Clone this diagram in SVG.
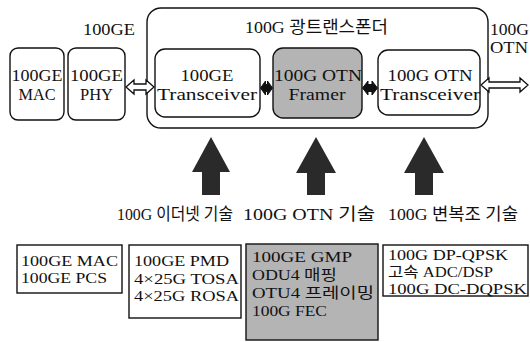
<svg xmlns="http://www.w3.org/2000/svg" width="530" height="342" viewBox="0 0 530 342">
<style>
text{font-family:"Liberation Serif","Noto Sans CJK KR",serif;fill:#111}
.n{font-size:16px;text-anchor:middle}
.b{font-size:14.5px}
.l{font-size:17px}
.box{fill:#fff;stroke:#111;stroke-width:1.4}
.gray{fill:#b4b4b4;stroke:#111;stroke-width:1.4}
.hol{fill:#fff;stroke:#111;stroke-width:1.3;stroke-linejoin:miter}
.blk{fill:#111;stroke:#111;stroke-width:1}
.up{fill:#2a2a2a}
</style>
<rect width="530" height="342" fill="#fff"/>
<g id="transponder">
<rect class="box" x="147" y="8" width="341" height="120" rx="14" stroke-width="1.6"/>
<text class="l" x="245" y="33" textLength="143" lengthAdjust="spacingAndGlyphs">100G 광트랜스폰더</text>
</g>
<text class="l" x="83" y="35" textLength="52" lengthAdjust="spacingAndGlyphs">100GE</text>
<text class="l" x="490" y="35" textLength="39" lengthAdjust="spacingAndGlyphs">100G</text>
<text class="l" x="490" y="53" textLength="38" lengthAdjust="spacingAndGlyphs">OTN</text>
<g id="mac">
<rect class="box" x="10" y="48" width="54" height="72" rx="8"/>
<text class="n" x="37" y="81" textLength="51" lengthAdjust="spacingAndGlyphs">100GE</text>
<text class="n" x="37" y="100" textLength="37" lengthAdjust="spacingAndGlyphs">MAC</text>
</g>
<g id="phy">
<rect class="box" x="68" y="48" width="57" height="72" rx="8"/>
<text class="n" x="96.5" y="81" textLength="53" lengthAdjust="spacingAndGlyphs">100GE</text>
<text class="n" x="96.5" y="100" textLength="33" lengthAdjust="spacingAndGlyphs">PHY</text>
</g>
<g id="ge-transceiver">
<rect class="box" x="155" y="49" width="105" height="68" rx="10"/>
<text class="n" x="207" y="81" textLength="53" lengthAdjust="spacingAndGlyphs">100GE</text>
<text class="n" x="207" y="100" textLength="100" lengthAdjust="spacingAndGlyphs">Transceiver</text>
</g>
<g id="framer">
<rect class="gray" x="273" y="48" width="89" height="70" rx="10"/>
<text class="n" x="318" y="81" textLength="88" lengthAdjust="spacingAndGlyphs">100G OTN</text>
<text class="n" x="317" y="100" textLength="57" lengthAdjust="spacingAndGlyphs">Framer</text>
</g>
<g id="otn-transceiver">
<rect class="box" x="378" y="50" width="102" height="65" rx="10"/>
<text class="n" x="430" y="81" textLength="85" lengthAdjust="spacingAndGlyphs">100G OTN</text>
<text class="n" x="430" y="100" textLength="100" lengthAdjust="spacingAndGlyphs">Transceiver</text>
</g>
<g id="connectors">
<polygon class="hol" points="126,87 134,80 134,84 146,84 146,80 154,87 146,94 146,90 134,90 134,94"/>
<polygon class="blk" points="260.5,88 265.5,81 265.5,84.5 267.5,84.5 267.5,81 272.5,88 267.5,95 267.5,91.5 265.5,91.5 265.5,95"/>
<polygon class="blk" points="362.5,88 368,81 368,84.5 372,84.5 372,81 377.5,88 372,95 372,91.5 368,91.5 368,95"/>
<polygon class="hol" points="481,85 489,78 489,82 520,82 520,78 528,85 520,92 520,88 489,88 489,92"/>
<polygon class="up" points="211,137 230,172 220,172 220,195 202,195 202,172 192,172"/>
<polygon class="up" points="316,137 336,173 325,173 325,195 307,195 307,173 296,173"/>
<polygon class="up" points="424,137 444,173 433,173 433,195 415,195 415,173 404,173"/>
</g>
<text class="l" x="117" y="220" textLength="116" lengthAdjust="spacingAndGlyphs">100G 이더넷 기술</text>
<text class="l" x="243" y="220" textLength="132" lengthAdjust="spacingAndGlyphs">100G OTN 기술</text>
<text class="l" x="388" y="220" textLength="130" lengthAdjust="spacingAndGlyphs">100G 변복조 기술</text>
<g id="eth-tech">
<rect class="box" x="17" y="245" width="105" height="48"/>
<text class="b" x="21" y="266" textLength="97" lengthAdjust="spacingAndGlyphs">100GE MAC</text>
<text class="b" x="21" y="283" textLength="86" lengthAdjust="spacingAndGlyphs">100GE PCS</text>
</g>
<g id="pmd-tech">
<rect class="box" x="129" y="245" width="112" height="73"/>
<text class="b" x="134" y="266" textLength="95" lengthAdjust="spacingAndGlyphs">100GE PMD</text>
<text class="b" x="134" y="284" textLength="105" lengthAdjust="spacingAndGlyphs">4×25G TOSA</text>
<text class="b" x="134" y="301" textLength="105" lengthAdjust="spacingAndGlyphs">4×25G ROSA</text>
</g>
<g id="otn-tech">
<rect class="gray" x="246" y="244" width="132" height="96"/>
<text class="b" x="252" y="262" textLength="100" lengthAdjust="spacingAndGlyphs">100GE GMP</text>
<text class="b" x="252" y="280" textLength="85" lengthAdjust="spacingAndGlyphs">ODU4 매핑</text>
<text class="b" x="252" y="298" textLength="122" lengthAdjust="spacingAndGlyphs">OTU4 프레이밍</text>
<text class="b" x="252" y="316" textLength="75" lengthAdjust="spacingAndGlyphs">100G FEC</text>
</g>
<g id="mod-tech">
<rect class="box" x="383" y="245" width="145" height="51"/>
<text class="b" x="388" y="260" textLength="120" lengthAdjust="spacingAndGlyphs">100G DP-QPSK</text>
<text class="b" x="388" y="277" textLength="105" lengthAdjust="spacingAndGlyphs">고속 ADC/DSP</text>
<text class="b" x="388" y="294" textLength="139" lengthAdjust="spacingAndGlyphs">100G DC-DQPSK</text>
</g>
</svg>
